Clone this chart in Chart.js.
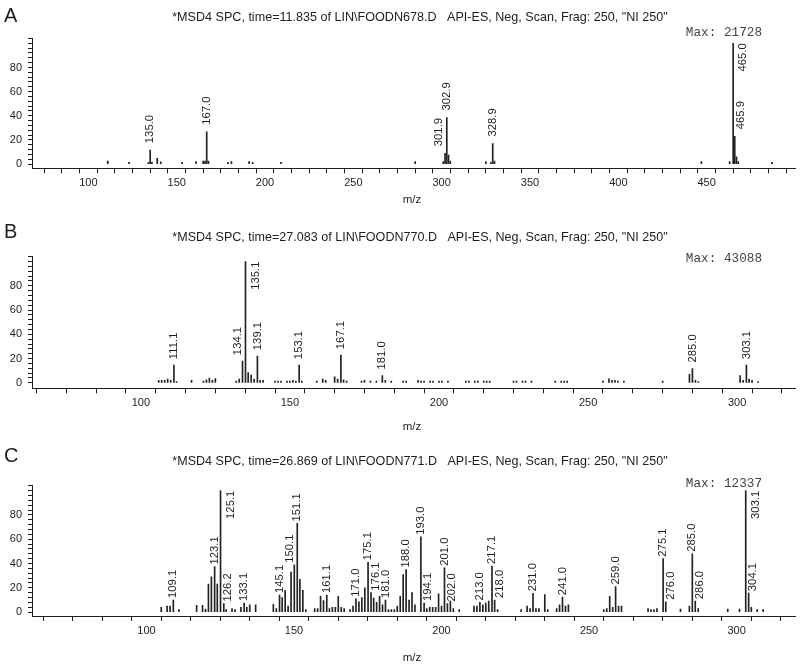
<!DOCTYPE html>
<html><head><meta charset="utf-8">
<script src="https://cdn.jsdelivr.net/npm/chart.js@4.4.1/dist/chart.umd.min.js"></script>
<style>
html,body{margin:0;padding:0;background:#fff;width:800px;height:666px;overflow:hidden}
.panel{position:absolute;left:0;width:800px}
canvas{display:block}
</style></head><body>
<div class="panel" style="top:0;height:220px"><canvas id="cA" width="800" height="220"></canvas></div>
<div class="panel" style="top:220px;height:220px"><canvas id="cB" width="800" height="220"></canvas></div>
<div class="panel" style="top:440px;height:226px"><canvas id="cC" width="800" height="226"></canvas></div>
<script>
// ---------- DATA ----------
const titleA = '*MSD4 SPC, time=11.835 of LIN\\FOODN678.D   API-ES, Neg, Scan, Frag: 250, "NI 250"';
const titleB = '*MSD4 SPC, time=27.083 of LIN\\FOODN770.D   API-ES, Neg, Scan, Frag: 250, "NI 250"';
const titleC = '*MSD4 SPC, time=26.869 of LIN\\FOODN771.D   API-ES, Neg, Scan, Frag: 250, "NI 250"';
const maxA = 'Max: 21728';
const maxB = 'Max: 43088';
const maxC = 'Max: 12337';
const axisTitle = 'm/z';
const yTickLabels = [0, 20, 40, 60, 80];

const mzA = [111, 123, 134, 135.0, 136, 139, 141, 153, 161, 165, 166, 167.0, 168, 179, 181, 191, 193, 209, 285,
  300.9, 301.9, 302.9, 303.9, 304.9, 325, 327.9, 328.9, 329.9, 447, 463, 465.0, 465.9, 466.9, 467.9, 487];
const intA = [2.5, 1.5, 1.5, 11.5, 1.5, 4.7, 1.8, 1.5, 2, 2.5, 2.5, 26.7, 2.5, 1.5, 2, 2, 1.5, 1.5, 2,
  2, 9, 38.5, 7.5, 2.5, 2, 1.5, 17, 2.5, 2, 2, 100, 23, 6, 2, 1.5];
const labelA = ['135.0', '167.0', '301.9', '302.9', '328.9', '465.0', '465.9'];

const mzB = [106, 107, 108, 109, 110, 111.1, 112, 117, 121, 122, 123, 124, 125, 132, 133, 134.1, 135.1, 136, 137, 138,
  139.1, 140, 141, 145, 146, 147, 149, 150, 151, 152, 153.1, 154, 159, 161, 162, 165, 166, 167.1, 168, 169,
  174, 175, 177, 179, 181.0, 182, 184, 188, 189, 193, 194, 195, 197, 198, 200, 201, 203, 209, 210, 212, 213,
  215, 216, 217, 225, 226, 228, 229, 231, 239, 241, 242, 243, 255, 257, 258, 259, 260, 262, 275, 284, 285.0,
  286, 287, 301, 302, 303.1, 304, 305, 307];
const intB = [2, 2, 2, 3, 2, 14.6, 1, 2, 1.5, 2.5, 4, 2, 3.5, 1.5, 3, 17.9, 100, 8.5, 6.3, 3,
  22, 2, 2, 1.5, 1.5, 1.5, 1.5, 1.5, 2, 1.5, 14.6, 1.5, 1.5, 3, 2, 5, 3, 22.8, 2.5, 1.5,
  1.5, 2, 1.5, 1.5, 6, 2, 1.5, 1.5, 1.5, 2, 1.5, 1.5, 1.5, 1.5, 1.5, 1.5, 1.5, 1.5, 1.5, 1.5, 1.5,
  1.5, 1.5, 1.5, 1.5, 1.5, 1.5, 1.5, 1.5, 1.5, 1.5, 1.5, 1.5, 1.5, 3.3, 2, 2, 1.5, 1.5, 1.5, 7, 11.8,
  2, 1, 6, 2, 14.6, 3, 2, 1];
const labelB = ['111.1', '134.1', '135.1', '139.1', '153.1', '167.1', '181.0', '285.0', '303.1'];

const mzC = [105, 107, 108, 109.1, 111, 117, 119, 120, 121, 122, 123.1, 124, 125.1, 126.2, 127, 129, 130, 132, 133.1, 134, 135, 137,
  143, 144, 145.1, 146, 147, 148, 149, 150.1, 151.1, 152, 153, 154, 157, 158, 159, 160, 161.1, 162, 163, 164, 165, 166, 167,
  169, 170, 171.0, 172, 173, 174, 175.1, 176.1, 177, 178, 179, 180, 181.0, 182, 183, 184, 185, 186, 187, 188.0, 189, 190, 191,
  193.0, 194.1, 195, 196, 197, 198, 199, 200, 201.0, 202.0, 203, 204, 206, 211, 212, 213.0, 214, 215, 216, 217.1, 218.0, 219,
  227, 229, 230, 231.0, 232, 233, 235, 236, 239, 240, 241.0, 242, 243, 255, 256, 257, 258, 259.0, 260, 261,
  270, 271, 272, 273, 275.1, 276.0, 281, 284, 285.0, 286.0, 287, 297, 301, 303.1, 304.1, 305, 307, 309];
const intC = [4, 5, 5, 10, 2, 5.5, 5.5, 2.5, 23, 29, 37.5, 23, 100, 7, 2, 3, 2, 4, 7.5, 4, 6, 6,
  6.5, 3, 14, 12, 18, 5, 33, 39, 73, 27, 18, 2, 3, 3, 13, 9.5, 14, 3, 4, 4, 13, 4, 3,
  2, 5, 11, 8.5, 12, 20, 41, 16, 11.5, 8, 13, 6, 10, 2, 2, 2, 5, 13, 31, 35, 10, 16, 6,
  62, 7.5, 3, 4, 4, 4, 15, 5, 36.5, 7, 9, 3, 2, 5, 5, 8, 6, 7.5, 9, 38, 10, 2,
  2, 5, 3, 15.5, 3, 3, 14.5, 2, 3, 6, 12.3, 5, 6, 2, 3, 13, 4, 21, 5, 5,
  3, 2, 2, 3, 44, 8.5, 2.5, 5, 48, 9, 3, 2.5, 2.5, 100, 15.6, 4, 2, 2];
const labelC = ['109.1', '123.1', '125.1', '126.2', '133.1', '145.1', '150.1', '151.1', '161.1', '171.0', '175.1', '176.1',
  '181.0', '188.0', '193.0', '194.1', '201.0', '202.0', '213.0', '217.1', '218.0', '231.0', '241.0', '259.0', '275.1',
  '276.0', '285.0', '286.0', '303.1', '304.1'];

// ---------- LAYOUT / STYLE ----------
const SANS = '"Liberation Sans", Arial, Helvetica, sans-serif';
const INK = '#1e1e1e';

function fitFont(ctx, text, family, targetW, base) {
  ctx.font = base + 'px ' + family;
  const w = ctx.measureText(text).width;
  return base * targetW / w;
}

function makePanel(cfg, mz, inten, labels, title, maxText) {
  const canvas = document.getElementById(cfg.id);
  const overlay = {
    id: 'overlay_' + cfg.id,
    afterDraw(chart) {
      const ctx = chart.ctx;
      const xs = chart.scales.x, ys = chart.scales.y;
      const area = chart.chartArea;
      ctx.save();
      ctx.fillStyle = INK;
      ctx.font = '20px ' + SANS;
      ctx.textAlign = 'left'; ctx.textBaseline = 'alphabetic';
      ctx.fillText(cfg.letter, 4, cfg.letterY);
      const ts = fitFont(ctx, title, SANS, 496, 12);
      ctx.font = ts + 'px ' + SANS;
      ctx.textAlign = 'center'; ctx.textBaseline = 'middle';
      ctx.fillText(title, 420, cfg.titleY);
      ctx.fillStyle = '#444';
      ctx.font = '12.7px "Liberation Mono", "DejaVu Sans Mono", monospace';
      ctx.textAlign = 'right';
      ctx.fillText(maxText, 762, cfg.maxY);
      ctx.fillStyle = INK;
      ctx.font = '11.5px ' + SANS;
      ctx.textAlign = 'center';
      ctx.fillText(axisTitle, 412, cfg.mzY);
      // peak labels
      ctx.font = '11.3px ' + SANS;
      const half = 4.5;
      const px = mz.map(m => xs.getPixelForValue(m));
      const pt = inten.map(v => ys.getPixelForValue(v));
      labels.forEach(s => {
        const v = parseFloat(s);
        const i = mz.findIndex(m => Math.abs(m - v) < 1e-6);
        if (i < 0) return;
        const bx = px[i], by = pt[i];
        const len = ctx.measureText(s).width;
        let cx = bx, bottom = by - cfg.gap;
        if (bottom - len < area.top - 2) {
          cx = bx + 10; bottom = by + len;
        } else {
          const blockers = c => px.map((p, j) => j).filter(j => j !== i &&
            Math.abs(px[j] - c) < half + 1 && pt[j] < bottom - 3);
          const b = blockers(cx);
          if (b.length) {
            const cands = [];
            b.forEach(j => { cands.push(px[j] + 3 + half, px[j] - 3 - half); });
            cands.sort((a, c) => Math.abs(a - bx) - Math.abs(c - bx));
            const ok = cands.find(c => blockers(c).length === 0);
            cx = ok !== undefined ? ok : cands[0];
          }
        }
        ctx.save();
        ctx.translate(cx, bottom);
        ctx.rotate(-Math.PI / 2);
        ctx.textAlign = 'left'; ctx.textBaseline = 'middle';
        ctx.fillText(s, 0, 0);
        ctx.restore();
      });
      ctx.restore();
    }
  };
  return new Chart(canvas, {
    type: 'bar',
    data: { datasets: [{
      data: mz.map((m, i) => ({ x: m, y: inten[i] })),
      backgroundColor: '#222', borderWidth: 0, barThickness: 1,
      categoryPercentage: 1, barPercentage: 1
    }] },
    options: {
      responsive: false, animation: false, devicePixelRatio: 1,
      layout: { padding: { top: cfg.chartTop, right: 5, left: 0, bottom: 0 } },
      plugins: { legend: { display: false }, tooltip: { enabled: false }, title: { display: false } },
      scales: {
        x: {
          type: 'linear', min: cfg.xMin, max: cfg.xMax, offset: false,
          afterFit(s) { s.height = cfg.height - cfg.chartBottom; },
          afterBuildTicks(s) {
            const t = [];
            for (let v = Math.ceil(cfg.xMin / 10) * 10; v < cfg.xMax - 1; v += 10) t.push({ value: v });
            s.ticks = t;
          },
          ticks: { autoSkip: false, maxRotation: 0, minRotation: 0, padding: 3, color: INK,
            font: { family: SANS, size: 11 }, callback: v => (v % 50 === 0 ? String(v) : '') },
          grid: { display: true, drawOnChartArea: false, drawTicks: true, tickLength: 5, color: INK, lineWidth: 1 },
          border: { display: true, color: INK, width: 1 }
        },
        y: {
          min: cfg.yMin, max: cfg.yMax,
          afterFit(s) { s.width = 32; },
          afterBuildTicks(s) {
            const t = [];
            for (let v = 0; v <= cfg.yMax; v += 4) t.push({ value: v });
            s.ticks = t;
          },
          ticks: { autoSkip: false, padding: 6, color: INK, font: { family: SANS, size: 11 },
            callback: v => (yTickLabels.includes(v) ? String(v) : '') },
          grid: { display: true, drawOnChartArea: false, drawTicks: true, tickLength: 4, color: INK, lineWidth: 1 },
          border: { display: true, color: INK, width: 1 }
        }
      }
    },
    plugins: [overlay]
  });
}

makePanel({ id: 'cA', letter: 'A', height: 220, chartTop: 38.5, chartBottom: 168.3, yMin: -3.5, yMax: 104,
  xMin: 68.1, xMax: 500, letterY: 21.7, titleY: 18, maxY: 33, mzY: 200, gap: 7 }, mzA, intA, labelA, titleA, maxA);
makePanel({ id: 'cB', letter: 'B', height: 220, chartTop: 36.7, chartBottom: 168.3, yMin: -4.5, yMax: 104,
  xMin: 63.5, xMax: 319.4, letterY: 18.3, titleY: 18, maxY: 39, mzY: 207, gap: 6 }, mzB, intB, labelB, titleB, maxB);
makePanel({ id: 'cC', letter: 'C', height: 226, chartTop: 45.8, chartBottom: 176, yMin: -3.2, yMax: 104,
  xMin: 61.2, xMax: 319.8, letterY: 22, titleY: 21.7, maxY: 43.3, mzY: 218, gap: 2 }, mzC, intC, labelC, titleC, maxC);
</script>
</body></html>
